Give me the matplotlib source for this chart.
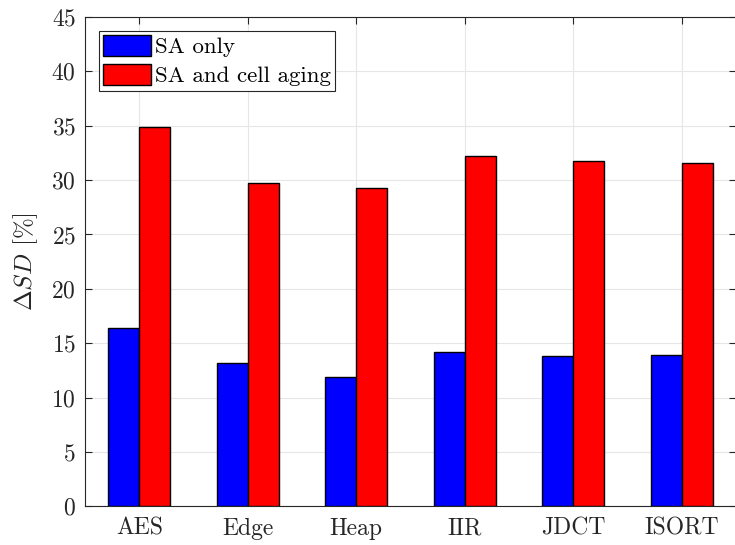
import numpy as np
import matplotlib
matplotlib.use("Agg")
import matplotlib.pyplot as plt

# data
benchmarks = ["AES", "Edge", "Heap", "IIR", "JDCT", "ISORT"]
sa_only = [16.4, 13.15, 11.9, 14.2, 13.85, 13.9]
sa_aging = [34.85, 29.75, 29.3, 32.25, 31.8, 31.55]
series_labels = ["SA only", "SA and cell aging"]

plt.rcParams['font.family'] = ['cmr10', 'DejaVu Serif']
plt.rcParams['mathtext.fontset'] = 'cm'
plt.rcParams['axes.formatter.use_mathtext'] = True

fig = plt.figure(figsize=(7.35, 5.45), dpi=100)
ax = fig.add_axes([85 / 735, 38.7 / 545, 651 / 735, 489.3 / 545])

x = np.arange(1, len(benchmarks) + 1)
w = 0.2857
ax.bar(x - w / 2, sa_only, w, color=(0, 0, 1), edgecolor='black', linewidth=1.0,
       label=series_labels[0], zorder=3)
ax.bar(x + w / 2, sa_aging, w, color=(1, 0, 0), edgecolor='black', linewidth=1.0,
       label=series_labels[1], zorder=3)

ax.set_xlim(0.5, len(benchmarks) + 0.5)
ax.set_ylim(0, 45)
ax.set_yticks(np.arange(0, 46, 5))
ax.set_xticks(x)
ax.set_xticklabels(benchmarks)

ax.grid(True, color='#e6e6e6', linewidth=0.8, zorder=0)
ax.set_axisbelow(True)
ax.tick_params(direction='in', length=5, width=0.8, color='#262626',
               labelsize=17, top=True, right=True, labelcolor='#262626')
ax.tick_params(axis='x', pad=8)
ax.tick_params(axis='y', pad=6.5)
for s in ax.spines.values():
    s.set_color('#262626')
    s.set_linewidth(0.8)

ax.set_ylabel(r'$\Delta SD$ [%]', fontsize=18, color='#262626', labelpad=8)

leg = ax.legend(loc='upper left', fontsize=16.5, fancybox=False, framealpha=1,
                edgecolor='#262626', handlelength=2.1, handleheight=1.0,
                handletextpad=0.15, borderpad=0.2, labelspacing=0.3,
                borderaxespad=0.6)
leg.get_frame().set_linewidth(0.8)
for t in leg.get_texts():
    t.set_color('black')

fig.savefig("out.png", dpi=100)
